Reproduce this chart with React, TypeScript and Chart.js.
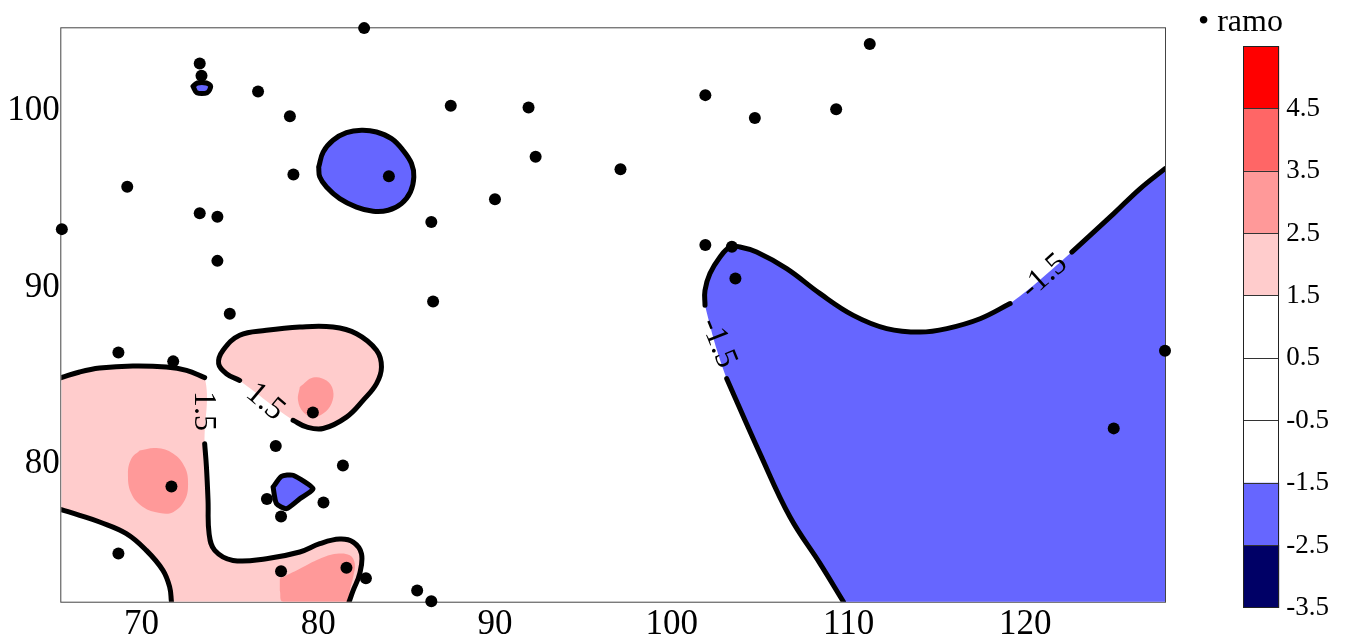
import React, { useEffect, useRef } from 'react';
import { Chart, registerables } from 'chart.js';

Chart.register(...registerables);

const FONT = "'Liberation Serif', 'Times New Roman', Times, serif";

// ---- axis extents and ticks ----
const xRange = [65.47, 127.9];
const yRange = [72.17, 104.69];
const tickStep = 10;

// ---- observation points ("ramo") ----
const seriesName = 'ramo';
const ramoX = [82.6, 73.3, 73.4, 76.6, 78.4, 87.5, 91.9, 101.9, 104.7, 109.3, 111.2, 84.0, 78.6, 92.3, 97.1, 90.0, 69.2, 73.3, 74.3, 65.5, 86.4, 74.3, 86.5, 75.0, 101.9, 103.4, 103.6, 68.7, 71.8, 79.7, 77.6, 81.4, 71.7, 77.1, 80.3, 77.9, 68.7, 77.9, 81.6, 82.7, 85.6, 86.4, 127.9, 125.0];
const ramoY = [104.7, 102.7, 102.0, 101.1, 99.7, 100.3, 100.2, 100.9, 99.6, 100.1, 103.8, 96.3, 96.4, 97.4, 96.7, 95.0, 95.7, 94.2, 94.0, 93.3, 93.7, 91.5, 89.2, 88.5, 92.4, 92.3, 90.5, 86.3, 85.8, 82.9, 81.0, 79.9, 78.7, 78.0, 77.8, 77.0, 74.9, 73.9, 74.1, 73.5, 72.8, 72.2, 86.4, 82.0];

// ---- colour levels (colorbar) ----
const levelBounds = [-3.5, -2.5, -1.5, -0.5, 0.5, 1.5, 2.5, 3.5, 4.5, 5.5];
const levelColors = ['#000066', '#6666ff', '#ffffff', '#ffffff', '#ffffff', '#ffcccc', '#ff9999', '#ff6666', '#ff0000'];
const colorbarTicks = [-3.5, -2.5, -1.5, -0.5, 0.5, 1.5, 2.5, 3.5, 4.5];

// ---- contour lines (x, y in data units) ----
type P = [number, number];
// level 1.5, left region
const pinkA_top: P[] = [[65.47, 84.88], [66.51, 85.2], [67.64, 85.42], [69.52, 85.54], [71.41, 85.48], [72.55, 85.29], [73.58, 84.88]];
const pinkA_mid: P[] = [[73.58, 81.13], [73.68, 79.81], [73.77, 77.92], [73.83, 76.03], [74.15, 75.08], [75.18, 74.51], [77.07, 74.61], [78.96, 74.99], [80.09, 75.46], [81.22, 75.72], [81.98, 75.55], [82.45, 74.89], [82.35, 73.76], [81.98, 72.81], [81.75, 72.17]];
const pinkA_low: P[] = [[71.7, 72.17], [71.6, 73.0], [71.22, 73.95], [70.28, 75.08], [69.15, 76.03], [67.64, 76.69], [66.51, 77.07], [65.47, 77.39]];
// level 2.5 inside left region
const darkA1: P[] = [[69.9, 80.75], [70.85, 80.88], [71.79, 80.57], [72.45, 79.81], [72.64, 78.87], [72.45, 77.92], [71.79, 77.25], [71.04, 77.2], [70.09, 77.54], [69.43, 78.3], [69.24, 79.43], [69.43, 80.28], [69.9, 80.75]];
const darkA2: P[] = [[77.83, 73.48], [78.96, 74.04], [80.09, 74.61], [81.04, 74.89], [81.79, 74.8], [82.07, 74.33], [81.98, 73.57], [81.79, 72.81], [81.69, 72.17], [78.01, 72.17], [77.83, 72.81]];
// level 1.5, upper blob
const pinkB: P[] = [[75.56, 84.72], [74.81, 85.1], [74.37, 85.67], [74.62, 86.43], [75.56, 87.28], [77.07, 87.56], [78.96, 87.75], [80.84, 87.75], [82.17, 87.37], [83.3, 86.43], [83.58, 85.48], [83.3, 84.54], [82.54, 83.59], [81.6, 82.64], [80.28, 81.99], [79.34, 82.08], [78.58, 82.46]];
const darkB: P[] = [[78.96, 84.34], [79.71, 84.88], [80.47, 84.72], [80.84, 84.16], [80.75, 83.4], [80.28, 82.84], [79.71, 82.64], [79.15, 82.93], [78.86, 83.59], [78.96, 84.34]];
// level -1.5 closed loops
const blueC: P[] = [[80.03, 96.82], [80.28, 97.67], [80.84, 98.34], [81.6, 98.77], [82.45, 98.91], [83.3, 98.81], [84.15, 98.43], [84.8, 97.77], [85.28, 97.02], [85.41, 96.26], [85.22, 95.41], [84.71, 94.75], [83.96, 94.37], [83.11, 94.31], [82.17, 94.55], [81.22, 95.03], [80.47, 95.69], [80.09, 96.26], [80.03, 96.82]];
const blueD: P[] = [[72.92, 101.4], [73.16, 101.59], [73.68, 101.59], [73.92, 101.4], [73.72, 101.04], [73.13, 101.04], [72.92, 101.4]];
const blueE: P[] = [[77.45, 78.67], [77.92, 79.28], [78.58, 79.34], [79.71, 78.58], [78.96, 78.01], [78.21, 77.45], [77.64, 77.73], [77.45, 78.67]];
// level -1.5, right region
const blueF_a: P[] = [[127.9, 96.73], [126.5, 95.6], [125.0, 94.18], [122.63, 92.0]];
const blueF_b: P[] = [[119.14, 89.08], [117.44, 88.22], [115.56, 87.66], [114.05, 87.46], [112.16, 87.66], [110.27, 88.41], [108.39, 89.64], [106.5, 91.06], [104.8, 92.0], [103.86, 92.29], [103.29, 92.29], [102.73, 91.72], [102.16, 90.78], [101.88, 89.83], [101.88, 88.98]];
const blueF_c: P[] = [[103.11, 84.82], [104.99, 80.57], [106.69, 76.97], [108.39, 74.33], [109.71, 72.17]];
// closure of the right region beyond the plot edges (clipped away)
const blueF_closure: P[] = [[110.5, 70.9], [129.0, 70.9], [129.0, 97.6]];

// contour labels
const contourLabelText = ['1.5', '1.5', '-1.5', '-1.5'];
const contourLabelX = [73.51, 77.0, 121.06, 102.63];
const contourLabelY = [82.98, 83.5, 90.62, 86.84];
const contourLabelAngle = [90, 40, -42, 68];

const toXY = (pts: P[]) => pts.map(([x, y]) => ({ x, y }));

export default function App() {
  const mainRef = useRef<HTMLCanvasElement>(null);
  const barRef = useRef<HTMLCanvasElement>(null);

  useEffect(() => {
    const fillDs = (pts: P[], color: string, order: number, tension = 0.4) => ({
      data: toXY(pts),
      showLine: true,
      fill: 'shape',
      backgroundColor: color,
      borderColor: 'rgba(0,0,0,0)',
      borderWidth: 0,
      pointRadius: 0,
      tension,
      order,
    });
    const lineDs = (pts: P[], tension = 0.4) => ({
      data: toXY(pts),
      showLine: true,
      fill: false,
      borderColor: '#000',
      borderWidth: 5,
      borderCapStyle: 'round',
      borderJoinStyle: 'round',
      pointRadius: 0,
      tension,
      order: 2,
    });

    const pink = levelColors[5];
    const pinkDark = levelColors[6];
    const blue = levelColors[1];

    const datasets: any[] = [
      {
        label: seriesName,
        data: ramoX.map((x, i) => ({ x, y: ramoY[i] })),
        showLine: false,
        pointRadius: 6,
        pointBackgroundColor: '#000',
        pointBorderWidth: 0,
        clip: false,
        order: 0,
      },
      // outer fills
      fillDs([...pinkA_top, ...pinkA_mid, ...pinkA_low], pink, 5),
      fillDs([...pinkB, pinkB[0]], pink, 5),
      fillDs(blueC, blue, 5),
      fillDs(blueD, blue, 5, 0.3),
      fillDs(blueE, blue, 5, 0.2),
      fillDs([...blueF_a, ...blueF_b, ...blueF_c, ...blueF_closure], blue, 5),
      // inner fills
      fillDs(darkA1, pinkDark, 4),
      fillDs(darkA2, pinkDark, 4),
      fillDs(darkB, pinkDark, 4),
      // contour lines
      lineDs(pinkA_top),
      lineDs(pinkA_mid),
      lineDs(pinkA_low),
      lineDs(pinkB),
      lineDs(blueC),
      lineDs(blueD, 0.3),
      lineDs(blueE, 0.2),
      lineDs(blueF_a),
      lineDs(blueF_b),
      lineDs(blueF_c),
    ];

    const framePlugin = {
      id: 'frame',
      beforeDatasetsDraw(chart: any) {
        const { ctx, chartArea: a } = chart;
        ctx.save();
        ctx.strokeStyle = '#444';
        ctx.lineWidth = 1;
        ctx.strokeRect(a.left - 0.5, a.top - 0.5, a.right - a.left + 1, a.bottom - a.top + 1);
        ctx.restore();
      },
    };

    const labelPlugin = {
      id: 'contourLabels',
      afterDatasetsDraw(chart: any) {
        const { ctx } = chart;
        const xs = chart.scales.x;
        const ys = chart.scales.y;
        ctx.save();
        ctx.font = `32px ${FONT}`;
        ctx.fillStyle = '#000';
        ctx.textAlign = 'center';
        ctx.textBaseline = 'middle';
        contourLabelText.forEach((t, i) => {
          ctx.save();
          ctx.translate(xs.getPixelForValue(contourLabelX[i]), ys.getPixelForValue(contourLabelY[i]));
          ctx.rotate((contourLabelAngle[i] * Math.PI) / 180);
          ctx.fillText(t, 0, 0);
          ctx.restore();
        });
        ctx.restore();
      },
    };

    const tickFont = { family: FONT, size: 35 };

    const main = new Chart(mainRef.current as HTMLCanvasElement, {
      type: 'line',
      data: { datasets },
      options: {
        animation: false,
        responsive: false,
        events: [],
        layout: { padding: { left: 0, right: 182, top: 28.3, bottom: 0 } },
        plugins: { legend: { display: false }, tooltip: { enabled: false } },
        scales: {
          x: {
            type: 'linear',
            min: xRange[0],
            max: xRange[1],
            grid: { display: false, drawTicks: false },
            border: { display: false },
            ticks: { stepSize: tickStep, includeBounds: false, font: tickFont, color: '#000', padding: 2, maxRotation: 0, autoSkip: false },
            afterFit(s: any) { s.height = 39.3; },
          },
          y: {
            type: 'linear',
            min: yRange[0],
            max: yRange[1],
            grid: { display: false, drawTicks: false },
            border: { display: false },
            ticks: { stepSize: tickStep, includeBounds: false, font: tickFont, color: '#000', padding: 1.5 },
            afterFit(s: any) { s.width = 61.3; },
          },
        },
      } as any,
      plugins: [framePlugin, labelPlugin],
    });

    const cbFrame = {
      id: 'cbFrame',
      afterDraw(chart: any) {
        const { ctx, chartArea: a } = chart;
        ctx.save();
        ctx.strokeStyle = '#222';
        ctx.lineWidth = 1;
        ctx.strokeRect(Math.round(a.left) + 0.5, Math.round(a.top) + 0.5, Math.round(a.right - a.left) - 1, Math.round(a.bottom - a.top) - 1);
        ctx.font = `32px ${FONT}`;
        ctx.fillStyle = '#000';
        ctx.textAlign = 'left';
        ctx.textBaseline = 'alphabetic';
        ctx.fillText('\u2022 ' + seriesName, 8, 30.7);
        ctx.restore();
      },
    };

    const bar = new Chart(barRef.current as HTMLCanvasElement, {
      type: 'bar',
      data: {
        labels: [''],
        datasets: levelColors.map((c, i) => ({
          data: [[levelBounds[i], levelBounds[i + 1]]],
          backgroundColor: c,
          borderWidth: 0,
          barPercentage: 1,
          categoryPercentage: 1,
          grouped: false,
        })),
      },
      options: {
        animation: false,
        responsive: false,
        events: [],
        layout: { padding: { left: 53.3, right: 0, top: 46.3, bottom: 33.1 } },
        plugins: { legend: { display: false }, tooltip: { enabled: false } },
        scales: {
          x: { display: false },
          y: {
            position: 'right',
            min: levelBounds[0],
            max: levelBounds[levelBounds.length - 1],
            afterBuildTicks(s: any) { s.ticks = colorbarTicks.map((v) => ({ value: v })); },
            ticks: { font: { family: FONT, size: 27 }, color: '#000', padding: 7, callback: (v: any) => String(v) },
            grid: { color: '#333', drawTicks: false, z: 1 },
            border: { display: false },
            afterFit(s: any) { s.width = 67.7; },
          },
        },
      } as any,
      plugins: [cbFrame],
    });

    return () => {
      main.destroy();
      bar.destroy();
    };
  }, []);

  return (
    <div style={{ position: 'fixed', left: 0, top: 0, width: 1347, height: 641, background: '#fff' }}>
      <canvas ref={mainRef} width={1347} height={641} style={{ position: 'absolute', left: 0, top: 0, width: 1347, height: 641 }} />
      <canvas ref={barRef} width={157} height={641} style={{ position: 'absolute', left: 1190, top: 0, width: 157, height: 641 }} />
    </div>
  );
}
